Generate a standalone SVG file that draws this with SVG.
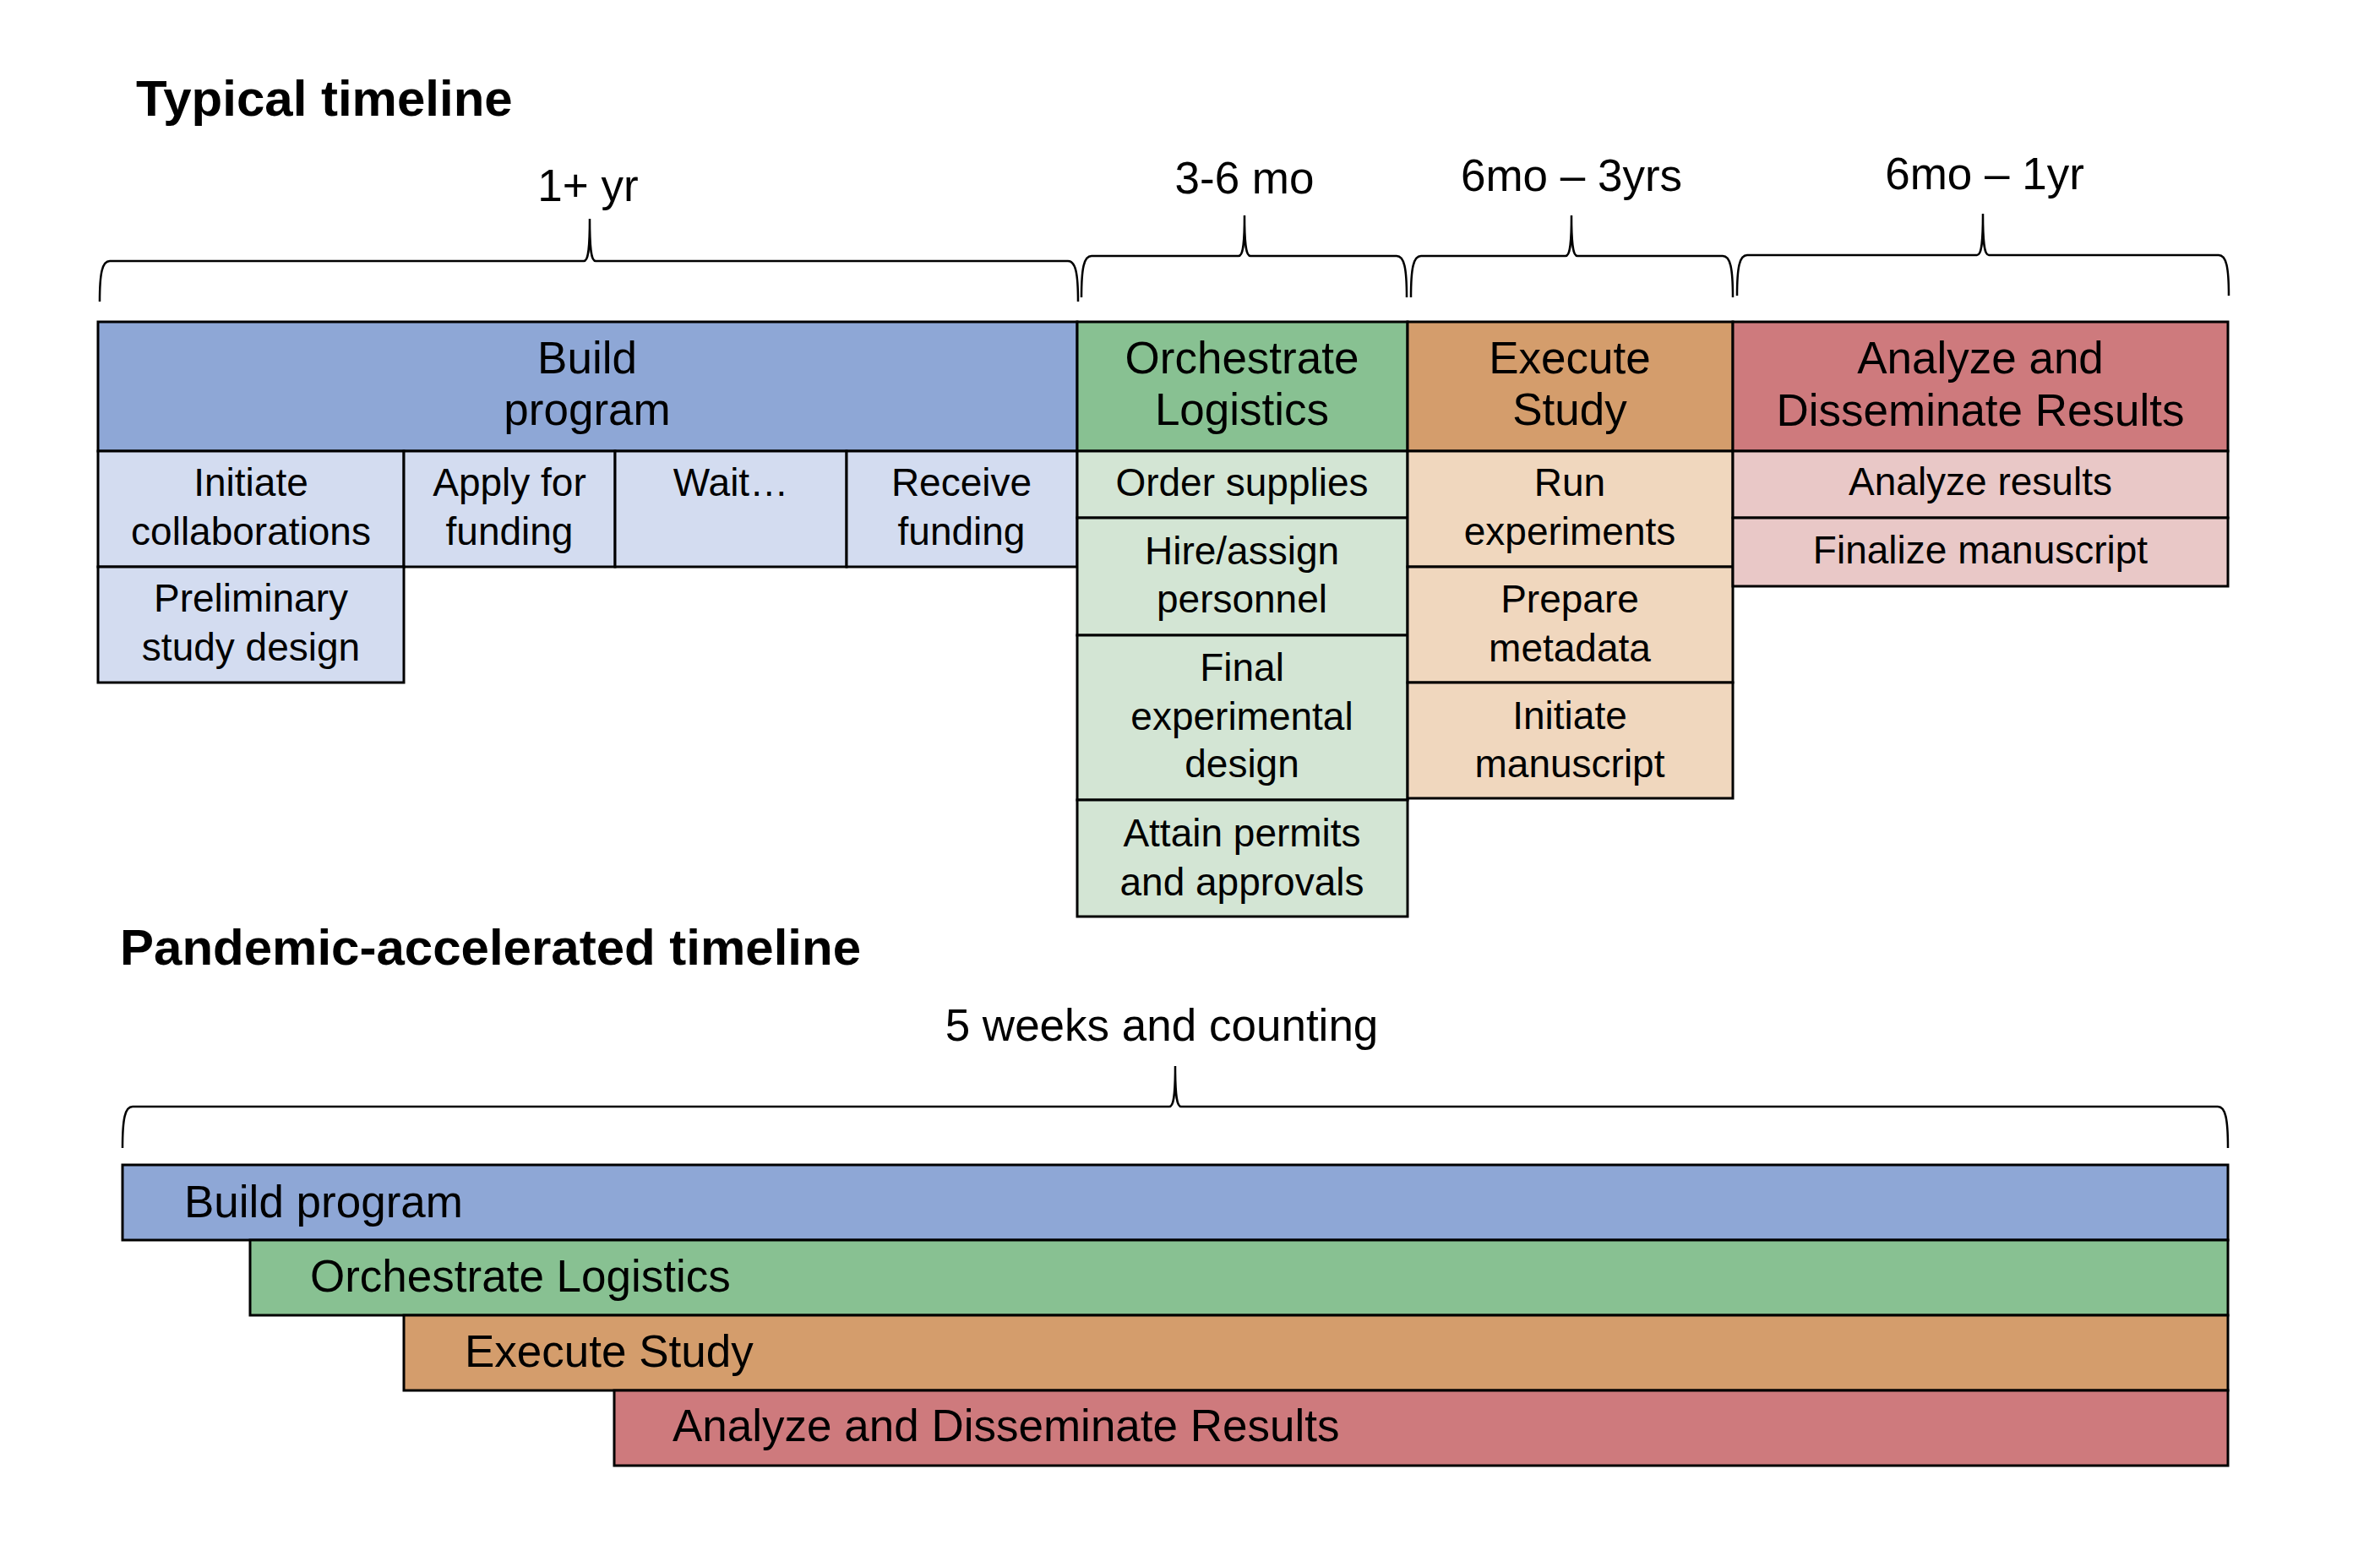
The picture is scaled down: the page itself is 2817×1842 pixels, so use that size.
<svg xmlns="http://www.w3.org/2000/svg" width="2817" height="1842" viewBox="0 0 2817 1842">
<style>
text{font-family:"Liberation Sans",Arial,Helvetica,sans-serif;fill:#000}
.t{font-size:60px;font-weight:bold}
.h{font-size:53px;text-anchor:middle}
.s{font-size:46px;text-anchor:middle}
.l{font-size:53px}
.d{font-size:53px;text-anchor:middle}
rect{stroke:#000;stroke-width:3}
.brace{fill:none;stroke:#000;stroke-width:2.5}
.bh{fill:#8EA7D6}.bs{fill:#D3DCF0}
.gh{fill:#88C192}.gs{fill:#D3E5D4}
.oh{fill:#D49D6C}.os{fill:#F0D7BE}
.rh{fill:#CE7A7D}.rs{fill:#E9C8C7}
</style>
<rect x="0" y="0" width="2817" height="1842" fill="#fff" style="stroke:none"/>
<g id="titles">
<text class="t" x="161" y="137">Typical timeline</text>
<text class="t" x="142" y="1142">Pandemic-accelerated timeline</text>
</g>
<g id="braces">
<path class="brace" d="M118,357 C118,323 121,309 130,309 L691,309 C696,309 698,297 698,259 C698,297 700,309 705,309 L1264,309 C1273,309 1276,323 1276,357"/>
<path class="brace" d="M1280,352 C1280,317 1283,303 1292,303 L1466,303 C1471,303 1473,291 1473,255 C1473,291 1475,303 1480,303 L1653,303 C1662,303 1665,317 1665,352"/>
<path class="brace" d="M1670,352 C1670,317 1673,303 1682,303 L1853,303 C1858,303 1860,291 1860,255 C1860,291 1862,303 1867,303 L2039,303 C2048,303 2051,317 2051,352"/>
<path class="brace" d="M2056,350 C2056,316 2059,302 2068,302 L2340,302 C2345,302 2347,290 2347,253 C2347,290 2349,302 2354,302 L2626,302 C2635,302 2638,316 2638,350"/>
<path class="brace" d="M145,1359 C145,1324 148,1310 157,1310 L1384,1310 C1389,1310 1391,1298 1391,1262 C1391,1298 1393,1310 1398,1310 L2625,1310 C2634,1310 2637,1324 2637,1359"/>
<text class="d" x="696" y="238">1+ yr</text>
<text class="d" x="1473" y="229">3-6 mo</text>
<text class="d" x="1860" y="226">6mo – 3yrs</text>
<text class="d" x="2349" y="224">6mo – 1yr</text>
<text class="d" x="1375" y="1232">5 weeks and counting</text>
</g>
<g id="build">
<rect class="bh" x="116" y="381" width="1159" height="153"/>
<text class="h" x="695" y="442">Build</text>
<text class="h" x="695" y="503">program</text>
<rect class="bs" x="116" y="534" width="362" height="137"/>
<text class="s" x="297" y="587">Initiate</text>
<text class="s" x="297" y="645">collaborations</text>
<rect class="bs" x="478" y="534" width="250" height="137"/>
<text class="s" x="603" y="587">Apply for</text>
<text class="s" x="603" y="645">funding</text>
<rect class="bs" x="728" y="534" width="274" height="137"/>
<text class="s" x="865" y="587">Wait…</text>
<rect class="bs" x="1002" y="534" width="273" height="137"/>
<text class="s" x="1138" y="587">Receive</text>
<text class="s" x="1138" y="645">funding</text>
<rect class="bs" x="116" y="671" width="362" height="137"/>
<text class="s" x="297" y="724">Preliminary</text>
<text class="s" x="297" y="782">study design</text>
</g>
<g id="orchestrate">
<rect class="gh" x="1275" y="381" width="391" height="153"/>
<text class="h" x="1470" y="442">Orchestrate</text>
<text class="h" x="1470" y="503">Logistics</text>
<rect class="gs" x="1275" y="534" width="391" height="79"/>
<text class="s" x="1470" y="587">Order supplies</text>
<rect class="gs" x="1275" y="613" width="391" height="139"/>
<text class="s" x="1470" y="668">Hire/assign</text>
<text class="s" x="1470" y="725">personnel</text>
<rect class="gs" x="1275" y="752" width="391" height="195"/>
<text class="s" x="1470" y="806">Final</text>
<text class="s" x="1470" y="864">experimental</text>
<text class="s" x="1470" y="920">design</text>
<rect class="gs" x="1275" y="947" width="391" height="138"/>
<text class="s" x="1470" y="1002">Attain permits</text>
<text class="s" x="1470" y="1060">and approvals</text>
</g>
<g id="execute">
<rect class="oh" x="1666" y="381" width="385" height="153"/>
<text class="h" x="1858" y="442">Execute</text>
<text class="h" x="1858" y="503">Study</text>
<rect class="os" x="1666" y="534" width="385" height="137"/>
<text class="s" x="1858" y="587">Run</text>
<text class="s" x="1858" y="645">experiments</text>
<rect class="os" x="1666" y="671" width="385" height="137"/>
<text class="s" x="1858" y="725">Prepare</text>
<text class="s" x="1858" y="783">metadata</text>
<rect class="os" x="1666" y="808" width="385" height="137"/>
<text class="s" x="1858" y="863">Initiate</text>
<text class="s" x="1858" y="920">manuscript</text>
</g>
<g id="analyze">
<rect class="rh" x="2051" y="381" width="586" height="153"/>
<text class="h" x="2344" y="442">Analyze and</text>
<text class="h" x="2344" y="504">Disseminate Results</text>
<rect class="rs" x="2051" y="534" width="586" height="79"/>
<text class="s" x="2344" y="586">Analyze results</text>
<rect class="rs" x="2051" y="613" width="586" height="81"/>
<text class="s" x="2344" y="667">Finalize manuscript</text>
</g>
<g id="pandemic-build">
<rect class="bh" x="145" y="1379" width="2492" height="89"/>
<text class="l" x="218" y="1441">Build program</text>
</g>
<g id="pandemic-orchestrate">
<rect class="gh" x="296" y="1468" width="2341" height="89"/>
<text class="l" x="367" y="1529">Orchestrate Logistics</text>
</g>
<g id="pandemic-execute">
<rect class="oh" x="478" y="1557" width="2159" height="89"/>
<text class="l" x="550" y="1618">Execute Study</text>
</g>
<g id="pandemic-analyze">
<rect class="rh" x="727" y="1646" width="1910" height="89"/>
<text class="l" x="796" y="1706">Analyze and Disseminate Results</text>
</g>
</svg>
